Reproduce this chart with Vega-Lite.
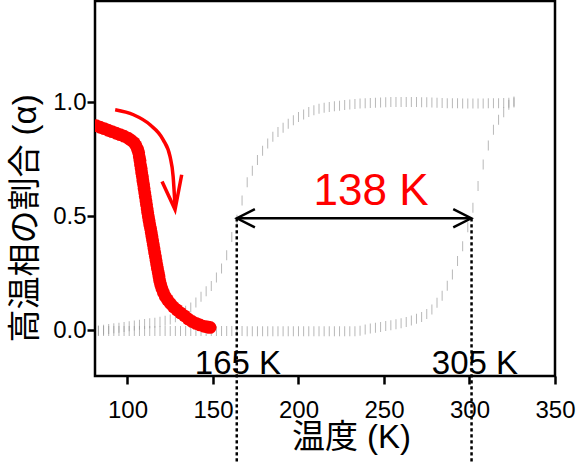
{
  "$schema": "https://vega.github.io/schema/vega-lite/v6.json",
  "width": 460,
  "height": 375,
  "autosize": "none",
  "padding": {"left": 95, "top": 1, "right": 32, "bottom": 86},
  "background": "white",
  "config": {"view": {"stroke": "black", "strokeWidth": 2.5}, "font": "Liberation Sans"},
  "datasets": {
    "gray": [
      {"T":83,"a":-0.003,"b":"A"},{"T":86,"a":-0.003,"b":"A"},{"T":89,"a":-0.003,"b":"A"},{"T":92,"a":-0.003,"b":"A"},{"T":95,"a":-0.003,"b":"A"},{"T":98,"a":-0.003,"b":"A"},{"T":101,"a":-0.003,"b":"A"},{"T":104,"a":-0.003,"b":"A"},{"T":107,"a":-0.003,"b":"A"},{"T":110,"a":-0.003,"b":"A"},{"T":113,"a":-0.003,"b":"A"},{"T":116,"a":-0.003,"b":"A"},{"T":119,"a":-0.003,"b":"A"},{"T":122,"a":-0.003,"b":"A"},{"T":125,"a":-0.003,"b":"A"},{"T":128,"a":-0.003,"b":"A"},{"T":131,"a":-0.003,"b":"A"},{"T":134,"a":-0.003,"b":"A"},{"T":137,"a":-0.003,"b":"A"},{"T":140,"a":-0.003,"b":"A"},{"T":143,"a":-0.003,"b":"A"},{"T":146,"a":-0.003,"b":"A"},{"T":149,"a":-0.003,"b":"A"},{"T":152,"a":-0.003,"b":"A"},{"T":155,"a":-0.003,"b":"A"},{"T":158,"a":-0.003,"b":"A"},{"T":161,"a":-0.003,"b":"A"},{"T":164,"a":-0.003,"b":"A"},{"T":167,"a":-0.003,"b":"A"},{"T":170,"a":-0.004,"b":"A"},{"T":173,"a":-0.004,"b":"A"},{"T":176,"a":-0.004,"b":"A"},{"T":179,"a":-0.004,"b":"A"},{"T":182,"a":-0.004,"b":"A"},{"T":185,"a":-0.004,"b":"A"},{"T":188,"a":-0.004,"b":"A"},{"T":191,"a":-0.004,"b":"A"},{"T":194,"a":-0.004,"b":"A"},{"T":197,"a":-0.004,"b":"A"},{"T":200,"a":-0.004,"b":"A"},{"T":203,"a":-0.004,"b":"A"},{"T":206,"a":-0.004,"b":"A"},{"T":209,"a":-0.004,"b":"A"},{"T":212,"a":-0.004,"b":"A"},{"T":215,"a":-0.004,"b":"A"},{"T":218,"a":-0.004,"b":"A"},{"T":221,"a":-0.004,"b":"A"},{"T":224,"a":-0.004,"b":"A"},{"T":227,"a":-0.004,"b":"A"},{"T":230,"a":-0.004,"b":"A"},{"T":233,"a":-0.004,"b":"A"},{"T":236,"a":-0.002,"b":"A"},
      {"T":239,"a":0.004,"b":"A"},{"T":242,"a":0.008,"b":"A"},{"T":245,"a":0.012,"b":"A"},{"T":248,"a":0.015,"b":"A"},{"T":251,"a":0.019,"b":"A"},{"T":254,"a":0.023,"b":"A"},{"T":257,"a":0.027,"b":"A"},{"T":260,"a":0.031,"b":"A"},{"T":263,"a":0.037,"b":"A"},{"T":266,"a":0.044,"b":"A"},{"T":269,"a":0.051,"b":"A"},{"T":272,"a":0.059,"b":"A"},{"T":275,"a":0.072,"b":"A"},{"T":278,"a":0.092,"b":"A"},{"T":281,"a":0.121,"b":"A"},{"T":284,"a":0.152,"b":"A"},{"T":287,"a":0.196,"b":"A"},{"T":290,"a":0.245,"b":"A"},{"T":293,"a":0.305,"b":"A"},{"T":296,"a":0.369,"b":"A"},{"T":299,"a":0.452,"b":"A"},{"T":302,"a":0.538,"b":"A"},{"T":305,"a":0.633,"b":"A"},{"T":308,"a":0.728,"b":"A"},{"T":311,"a":0.811,"b":"A"},{"T":314,"a":0.880,"b":"A"},{"T":317,"a":0.924,"b":"A"},{"T":320,"a":0.957,"b":"A"},{"T":323,"a":0.990,"b":"A"},{"T":326,"a":1.004,"b":"A"},
      {"T":83,"a":0.000,"b":"B"},{"T":86,"a":0.003,"b":"B"},{"T":89,"a":0.006,"b":"B"},{"T":92,"a":0.009,"b":"B"},{"T":95,"a":0.012,"b":"B"},{"T":98,"a":0.015,"b":"B"},{"T":101,"a":0.018,"b":"B"},{"T":104,"a":0.021,"b":"B"},{"T":107,"a":0.025,"b":"B"},{"T":110,"a":0.028,"b":"B"},{"T":113,"a":0.031,"b":"B"},{"T":116,"a":0.034,"b":"B"},{"T":119,"a":0.038,"b":"B"},{"T":122,"a":0.042,"b":"B"},{"T":125,"a":0.048,"b":"B"},{"T":128,"a":0.058,"b":"B"},{"T":131,"a":0.072,"b":"B"},{"T":134,"a":0.086,"b":"B"},{"T":137,"a":0.100,"b":"B"},{"T":140,"a":0.122,"b":"B"},{"T":143,"a":0.148,"b":"B"},{"T":146,"a":0.172,"b":"B"},{"T":149,"a":0.195,"b":"B"},{"T":152,"a":0.232,"b":"B"},{"T":155,"a":0.272,"b":"B"},{"T":158,"a":0.330,"b":"B"},{"T":161,"a":0.410,"b":"B"},{"T":164,"a":0.485,"b":"B"},{"T":167,"a":0.570,"b":"B"},{"T":170,"a":0.650,"b":"B"},{"T":173,"a":0.700,"b":"B"},{"T":176,"a":0.748,"b":"B"},{"T":179,"a":0.788,"b":"B"},{"T":182,"a":0.820,"b":"B"},{"T":185,"a":0.849,"b":"B"},{"T":188,"a":0.870,"b":"B"},{"T":191,"a":0.889,"b":"B"},{"T":194,"a":0.907,"b":"B"},{"T":197,"a":0.922,"b":"B"},{"T":200,"a":0.936,"b":"B"},{"T":203,"a":0.947,"b":"B"},{"T":206,"a":0.958,"b":"B"},{"T":209,"a":0.966,"b":"B"},{"T":212,"a":0.972,"b":"B"},{"T":215,"a":0.977,"b":"B"},{"T":218,"a":0.980,"b":"B"},{"T":221,"a":0.983,"b":"B"},{"T":224,"a":0.986,"b":"B"},{"T":227,"a":0.989,"b":"B"},{"T":230,"a":0.991,"b":"B"},{"T":233,"a":0.993,"b":"B"},{"T":236,"a":0.995,"b":"B"},{"T":239,"a":0.997,"b":"B"},{"T":242,"a":0.998,"b":"B"},{"T":245,"a":0.999,"b":"B"},{"T":248,"a":1.000,"b":"B"},{"T":251,"a":1.001,"b":"B"},{"T":254,"a":1.002,"b":"B"},{"T":257,"a":1.002,"b":"B"},{"T":260,"a":1.002,"b":"B"},{"T":263,"a":1.002,"b":"B"},{"T":266,"a":1.002,"b":"B"},{"T":269,"a":1.002,"b":"B"},{"T":272,"a":1.001,"b":"B"},{"T":275,"a":1.001,"b":"B"},{"T":278,"a":1.000,"b":"B"},{"T":281,"a":0.999,"b":"B"},{"T":284,"a":0.998,"b":"B"},{"T":287,"a":0.997,"b":"B"},{"T":290,"a":0.996,"b":"B"},{"T":293,"a":0.996,"b":"B"},{"T":296,"a":0.995,"b":"B"},{"T":299,"a":0.995,"b":"B"},{"T":302,"a":0.995,"b":"B"},{"T":305,"a":0.995,"b":"B"},{"T":308,"a":0.995,"b":"B"},{"T":311,"a":0.996,"b":"B"},{"T":314,"a":0.996,"b":"B"},{"T":317,"a":0.997,"b":"B"},{"T":320,"a":0.998,"b":"B"},{"T":323,"a":0.999,"b":"B"},{"T":326,"a":1.000,"b":"B"}
    ],
    "red": [
      {"T":79.3,"a":0.898},{"T":81.7,"a":0.898},{"T":84.0,"a":0.891},{"T":86.4,"a":0.885},{"T":88.7,"a":0.878},{"T":91.0,"a":0.872},{"T":93.4,"a":0.865},{"T":95.7,"a":0.859},{"T":98.0,"a":0.852},{"T":100.4,"a":0.843},{"T":102.1,"a":0.834},{"T":103.9,"a":0.823},{"T":105.0,"a":0.810},{"T":105.9,"a":0.795},{"T":106.5,"a":0.780},{"T":106.9,"a":0.762},{"T":107.3,"a":0.745},{"T":107.6,"a":0.727},{"T":108.0,"a":0.710},{"T":108.3,"a":0.692},{"T":108.7,"a":0.675},{"T":109.0,"a":0.657},{"T":109.4,"a":0.640},{"T":109.7,"a":0.622},{"T":110.1,"a":0.604},{"T":110.4,"a":0.587},{"T":110.8,"a":0.569},{"T":111.1,"a":0.552},{"T":111.5,"a":0.534},{"T":111.8,"a":0.517},{"T":112.2,"a":0.499},{"T":112.6,"a":0.482},{"T":113.0,"a":0.464},{"T":113.5,"a":0.447},{"T":113.9,"a":0.429},{"T":114.3,"a":0.412},{"T":114.7,"a":0.394},{"T":115.1,"a":0.377},{"T":115.5,"a":0.359},{"T":115.9,"a":0.342},{"T":116.3,"a":0.324},{"T":116.7,"a":0.307},{"T":117.1,"a":0.289},{"T":117.5,"a":0.272},{"T":118.0,"a":0.254},{"T":118.4,"a":0.237},{"T":118.8,"a":0.219},{"T":119.4,"a":0.201},{"T":120.1,"a":0.184},{"T":121.0,"a":0.166},{"T":122.1,"a":0.149},{"T":123.4,"a":0.134},{"T":125.1,"a":0.118},{"T":126.9,"a":0.103},{"T":128.9,"a":0.090},{"T":131.0,"a":0.077},{"T":133.3,"a":0.064},{"T":135.5,"a":0.050},{"T":137.8,"a":0.039},{"T":140.1,"a":0.031},{"T":142.4,"a":0.024},{"T":144.8,"a":0.018},{"T":146.8,"a":0.015},{"T":148.3,"a":0.013}
    ],
    "redcurve": [
      {"T":92.8,"a":0.968},{"T":103.5,"a":0.946},{"T":113.2,"a":0.902},{"T":120.8,"a":0.837},{"T":124.9,"a":0.762},{"T":126.7,"a":0.675},{"T":127.8,"a":0.545}
    ],
    "redhead": [
      {"T":120.2,"a":0.653,"o":1},{"T":127.8,"a":0.530,"o":2},{"T":131.7,"a":0.683,"o":3}
    ],
    "blackheads": [
      {"T":174.5,"a":0.532,"o":1,"g":"L"},{"T":164.0,"a":0.492,"o":2,"g":"L"},{"T":174.5,"a":0.452,"o":3,"g":"L"},
      {"T":290.5,"a":0.532,"o":1,"g":"R"},{"T":301.0,"a":0.492,"o":2,"g":"R"},{"T":290.5,"a":0.452,"o":3,"g":"R"}
    ]
  },
  "layer": [
    {
      "data": {"name": "gray"},
      "mark": {"type": "tick", "orient": "vertical", "color": "#9a9a9a", "size": 10, "thickness": 1, "clip": true},
      "encoding": {
        "x": {"field": "T", "type": "quantitative", "scale": {"domain": [81, 350], "nice": false, "zero": false},
          "axis": {"values": [100, 150, 200, 250, 300, 350], "title": "温度 (K)", "domain": false, "grid": false,
            "tickSize": 8, "tickWidth": 2.5, "tickColor": "black", "labelFontSize": 24, "labelFont": "Liberation Sans",
            "labelColor": "black", "labelPadding": 14, "labelFlush": false, "labelOverlap": false,
            "titleFont": "'Liberation Sans', 'Noto Sans CJK JP'", "titleFontSize": 33, "titleFontWeight": "normal", "titleColor": "black",
            "titleX": 256, "titleY": 71, "titleAlign": "center", "titleBaseline": "alphabetic"}},
        "y": {"field": "a", "type": "quantitative", "scale": {"domain": [-0.2, 1.445], "nice": false, "zero": false},
          "axis": {"values": [0, 0.5, 1], "format": ".1f", "title": "高温相の割合 (α)", "domain": false, "grid": false,
            "tickSize": 8, "tickWidth": 2.5, "tickColor": "black", "labelFontSize": 24, "labelFont": "Liberation Sans",
            "labelColor": "black", "labelPadding": 1,
            "titleFont": "'Liberation Sans', 'Noto Sans CJK JP'", "titleFontSize": 33, "titleFontWeight": "normal", "titleColor": "black",
            "titleX": -70, "titleY": 217, "titleAlign": "center", "titleBaseline": "middle"}},
        "detail": {"field": "b"}
      }
    },
    {
      "data": {"values": [{"T": 163.9, "a": 0.492, "a2": -0.62}, {"T": 301.2, "a": 0.492, "a2": -0.62}]},
      "mark": {"type": "rule", "color": "black", "strokeWidth": 2.5, "strokeDash": [3.3, 2.7], "clip": false},
      "encoding": {"x": {"field": "T", "type": "quantitative"}, "y": {"field": "a", "type": "quantitative"}, "y2": {"field": "a2"}}
    },
    {
      "data": {"values": [{"T": 164.0, "T2": 301.0, "a": 0.492}]},
      "mark": {"type": "rule", "color": "black", "strokeWidth": 2.5},
      "encoding": {"x": {"field": "T", "type": "quantitative"}, "x2": {"field": "T2"}, "y": {"field": "a", "type": "quantitative"}}
    },
    {
      "data": {"name": "blackheads"},
      "mark": {"type": "line", "color": "black", "strokeWidth": 2.5},
      "encoding": {"x": {"field": "T", "type": "quantitative"}, "y": {"field": "a", "type": "quantitative"}, "detail": {"field": "g"}, "order": {"field": "o"}}
    },
    {
      "data": {"name": "red"},
      "mark": {"type": "circle", "color": "#ff0000", "size": 165, "opacity": 1, "clip": true},
      "encoding": {"x": {"field": "T", "type": "quantitative"}, "y": {"field": "a", "type": "quantitative"}}
    },
    {
      "data": {"name": "redcurve"},
      "mark": {"type": "line", "color": "#ff0000", "strokeWidth": 3.5, "interpolate": "monotone"},
      "encoding": {"x": {"field": "T", "type": "quantitative"}, "y": {"field": "a", "type": "quantitative"}}
    },
    {
      "data": {"name": "redhead"},
      "mark": {"type": "line", "color": "#ff0000", "strokeWidth": 3.5},
      "encoding": {"x": {"field": "T", "type": "quantitative"}, "y": {"field": "a", "type": "quantitative"}, "order": {"field": "o"}}
    },
    {
      "data": {"values": [{"T": 242.4, "a": 0.550, "label": "138 K"}]},
      "mark": {"type": "text", "fontSize": 44, "color": "#ff0000", "align": "center", "baseline": "alphabetic", "font": "Liberation Sans"},
      "encoding": {"x": {"field": "T", "type": "quantitative"}, "y": {"field": "a", "type": "quantitative"}, "text": {"field": "label"}}
    },
    {
      "data": {"values": [{"T": 164.6, "a": -0.191, "label": "165 K"}, {"T": 303.2, "a": -0.191, "label": "305 K"}]},
      "mark": {"type": "text", "fontSize": 33, "color": "black", "align": "center", "baseline": "alphabetic", "font": "Liberation Sans"},
      "encoding": {"x": {"field": "T", "type": "quantitative"}, "y": {"field": "a", "type": "quantitative"}, "text": {"field": "label"}}
    }
  ]
}
